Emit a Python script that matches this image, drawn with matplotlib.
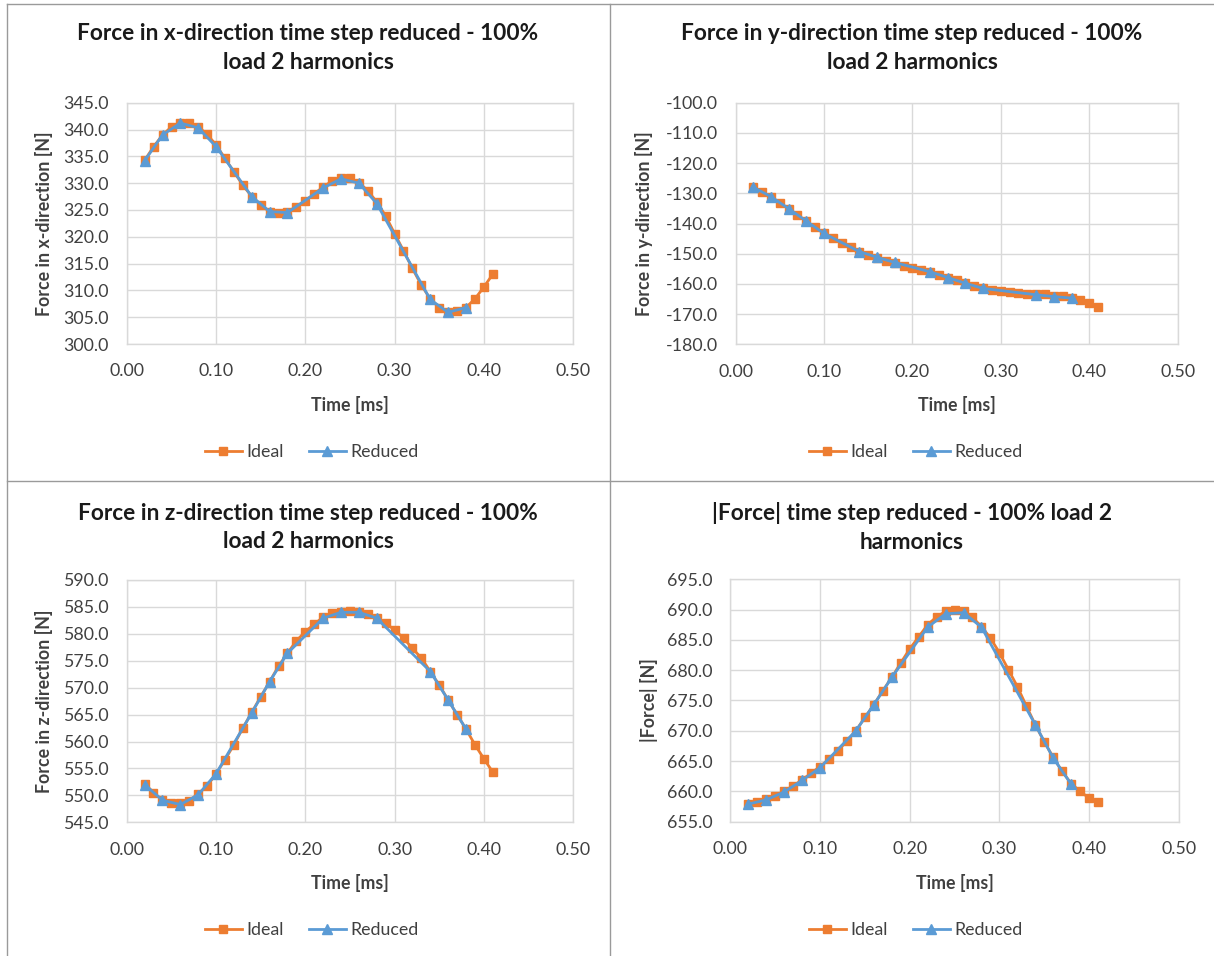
import matplotlib
matplotlib.use("Agg")
import matplotlib.pyplot as plt
from matplotlib.lines import Line2D

plt.rcParams['font.family'] = ['Lato', 'DejaVu Sans']

# Time axis [ms]
time_ideal = [0.02, 0.03, 0.04, 0.05, 0.06, 0.07, 0.08, 0.09, 0.10, 0.11,
              0.12, 0.13, 0.14, 0.15, 0.16, 0.17, 0.18, 0.19, 0.20, 0.21,
              0.22, 0.23, 0.24, 0.25, 0.26, 0.27, 0.28, 0.29, 0.30, 0.31,
              0.32, 0.33, 0.34, 0.35, 0.36, 0.37, 0.38, 0.39, 0.40, 0.41]
time_reduced = [0.02, 0.04, 0.06, 0.08, 0.10, 0.14, 0.16, 0.18,
                0.22, 0.24, 0.26, 0.28, 0.34, 0.36, 0.38]

# Force components [N]
fx_ideal = [334.3, 336.8, 339.0, 340.5, 341.3, 341.3, 340.5, 339.1, 337.1, 334.6,
            332.1, 329.6, 327.5, 325.9, 324.7, 324.5, 324.7, 325.6, 326.7, 328.0,
            329.3, 330.4, 330.9, 330.9, 330.1, 328.6, 326.5, 323.9, 320.6, 317.4,
            314.1, 311.0, 308.4, 306.8, 305.9, 306.2, 306.8, 308.4, 310.6, 313.0]
fx_reduced = [334.2, 339.0, 341.2, 340.3, 336.8, 327.5, 324.7, 324.5,
              329.1, 330.8, 330.0, 326.2, 308.3, 305.9, 306.8]

fy_ideal = [-128.0, -129.5, -131.3, -133.1, -135.1, -137.2, -139.2, -141.3, -143.3, -144.9,
            -146.3, -147.9, -149.3, -150.4, -151.5, -152.4, -153.2, -154.0, -154.6, -155.4,
            -156.2, -157.0, -157.9, -158.8, -159.8, -160.7, -161.5, -162.0, -162.5, -162.8,
            -163.0, -163.3, -163.4, -163.5, -163.9, -164.1, -164.6, -165.3, -166.4, -167.5]
fy_reduced = [-128.0, -131.1, -135.1, -139.2, -143.3, -149.3, -151.2, -152.9,
              -156.0, -157.9, -159.8, -161.5, -163.6, -164.2, -164.7]

fz_ideal = [552.2, 550.5, 549.1, 548.5, 548.5, 549.0, 550.3, 551.7, 554.0, 556.6,
            559.4, 562.5, 565.4, 568.3, 571.1, 574.0, 576.4, 578.7, 580.4, 581.8,
            583.1, 583.8, 584.1, 584.3, 584.1, 583.6, 582.9, 582.0, 580.7, 579.2,
            577.3, 575.5, 573.0, 570.5, 567.7, 565.0, 562.3, 559.4, 556.8, 554.3]
fz_reduced = [552.0, 549.1, 548.3, 550.1, 554.0, 565.3, 571.1, 576.4,
              582.9, 584.0, 584.0, 582.9, 573.0, 567.7, 562.3]

fmag_ideal = [658.0, 658.2, 658.7, 659.2, 660.1, 660.9, 661.9, 663.0, 664.1, 665.3,
              666.7, 668.3, 670.0, 672.2, 674.3, 676.6, 678.8, 681.2, 683.5, 685.5,
              687.5, 688.8, 689.7, 689.9, 689.7, 688.7, 687.2, 685.3, 682.9, 680.1,
              677.3, 674.1, 671.0, 668.2, 665.6, 663.3, 661.3, 660.0, 658.9, 658.2]
fmag_reduced = [657.9, 658.6, 659.9, 661.8, 663.9, 670.0, 674.3, 678.8,
                687.1, 689.3, 689.5, 687.1, 671.0, 665.5, 661.2]

titles = ["Force in x-direction time step reduced - 100%\nload 2 harmonics",
          "Force in y-direction time step reduced - 100%\nload 2 harmonics",
          "Force in z-direction time step reduced - 100%\nload 2 harmonics",
          "|Force| time step reduced - 100% load 2\nharmonics"]
ylabels = ["Force in x-direction [N]", "Force in y-direction [N]",
           "Force in z-direction [N]", "|Force| [N]"]
ylims = [(300, 345), (-180, -100), (545, 590), (655, 695)]
ysteps = [5, 10, 5, 5]
xlabel = "Time [ms]"
series_names = ["Ideal", "Reduced"]

ORANGE = "#ED7D31"
BLUE = "#5B9BD5"
GRID = "#D9D9D9"
TXT = "#404040"

W, H = 1214, 956
fig = plt.figure(figsize=(W / 100, H / 100), dpi=100)

# panel geometry in pixels: left, right, top, bottom of the plot area
boxes = [(126.9, 573.0, 102.7, 344.0),
         (735.6, 1177.6, 102.7, 344.3),
         (126.7, 573.2, 580.0, 822.3),
         (730.3, 1178.8, 579.3, 821.7)]
panel_cx = [308, 912, 308, 912]
title_y = [48, 48, 527.5, 527.5]
ylabel_x = [53, 653, 53, 658]
legend_y = [452, 452, 930, 930]

ideal = [fx_ideal, fy_ideal, fz_ideal, fmag_ideal]
reduced = [fx_reduced, fy_reduced, fz_reduced, fmag_reduced]

for i in range(4):
    l, r, t, b = boxes[i]
    ax = fig.add_axes([l / W, 1 - b / H, (r - l) / W, (b - t) / H])
    ax.plot(time_ideal, ideal[i], color=ORANGE, lw=2.0, marker='s', ms=5.8,
            zorder=3, solid_capstyle='round')
    ax.plot(time_reduced, reduced[i], color=BLUE, lw=2.0, marker='^', ms=6.5,
            zorder=4, solid_capstyle='round')
    ax.set_xlim(0, 0.5)
    ax.set_ylim(*ylims[i])
    ax.set_xticks([0.0, 0.1, 0.2, 0.3, 0.4, 0.5])
    y0, y1 = ylims[i]
    n = int(round((y1 - y0) / ysteps[i]))
    ax.set_yticks([y0 + k * ysteps[i] for k in range(n + 1)])
    ax.xaxis.set_major_formatter(matplotlib.ticker.FormatStrFormatter('%.2f'))
    ax.yaxis.set_major_formatter(matplotlib.ticker.FormatStrFormatter('%.1f'))
    ax.grid(True, color=GRID, lw=1.0, zorder=0)
    ax.set_axisbelow(True)
    for s in ax.spines.values():
        s.set_color(GRID)
        s.set_linewidth(1.0)
    ax.tick_params(length=0, labelsize=12.8, colors=TXT)
    ax.tick_params(axis='x', pad=14)
    ax.tick_params(axis='y', pad=13)
    ax.set_xlabel(xlabel, fontsize=12.8, fontweight='bold', color=TXT)
    ax.xaxis.set_label_coords(0.5, -52.0 / (b - t))
    ax.set_ylabel(ylabels[i], fontsize=12.8, fontweight='bold', color=TXT)
    ax.yaxis.set_label_coords((ylabel_x[i] - l) / (r - l), 0.5)

    fig.text(panel_cx[i] / W, 1 - title_y[i] / H, titles[i], ha='center', va='center',
             fontsize=16.3, fontweight='bold', color='#1a1a1a', linespacing=1.42)

    handles = [Line2D([], [], color=ORANGE, lw=2.0, marker='s', ms=5.8),
               Line2D([], [], color=BLUE, lw=2.0, marker='^', ms=6.5)]
    fig.legend(handles, series_names, loc='center',
               bbox_to_anchor=(panel_cx[i] / W + 0.003, 1 - legend_y[i] / H),
               ncol=2, frameon=False, fontsize=12.8, handlelength=2.1,
               handletextpad=0.25, columnspacing=1.4, labelcolor=TXT)

# panel frame lines
fig.add_artist(Line2D([7 / W, 7 / W], [0, 1 - 4 / H], color='#9a9a9a', lw=1.0))
fig.add_artist(Line2D([7 / W, 1], [1 - 4 / H, 1 - 4 / H], color='#9a9a9a', lw=1.0))
fig.add_artist(Line2D([610 / W, 610 / W], [0, 1 - 4 / H], color='#9a9a9a', lw=1.0))
fig.add_artist(Line2D([7 / W, 1], [1 - 481 / H, 1 - 481 / H], color='#9a9a9a', lw=1.0))

fig.savefig("out.png", dpi=100, facecolor='white')
